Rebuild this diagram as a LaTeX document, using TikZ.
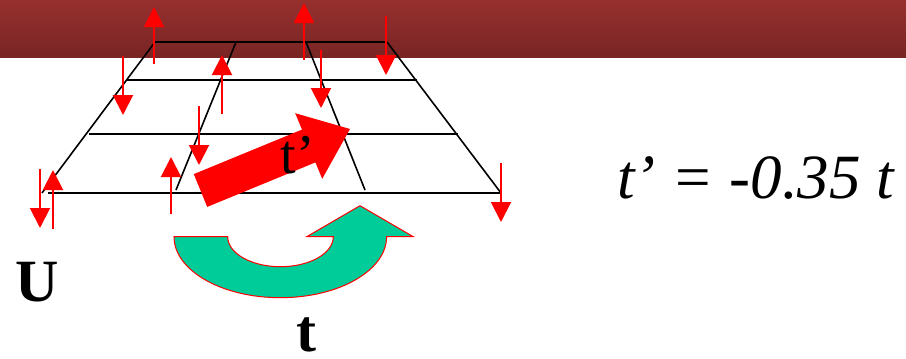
\documentclass[tikz,border=0pt]{standalone}
\usepackage{fontspec}
\setmainfont{Liberation Serif}
\usetikzlibrary{arrows.meta}
\definecolor{bandtop}{RGB}{150,48,46}
\definecolor{bandbot}{RGB}{120,37,36}
\definecolor{turn}{RGB}{0,204,153}
\tikzset{
  gridline/.style={black,line width=1.6pt},
  smallarr/.style={red,line width=2pt,-{Triangle[length=20pt,width=20pt]}},
  bigarr/.style={fill=red,draw=none},
  turnarr/.style={fill=turn,draw=red,line width=1pt},
}
\begin{document}
\begin{tikzpicture}[x=1pt,y=-1pt]
\useasboundingbox (0,0) rectangle (906,359);
% band
\shade[top color=bandtop,bottom color=bandbot] (0,0) rectangle (906,57);
% grid
\coordinate (tl) at (155,42); \coordinate (tr) at (387,42);
\coordinate (bl) at (42,193); \coordinate (br) at (501,193);
\draw[gridline] (tl) -- (tr);
\draw[gridline] (tl) -- (bl);
\draw[gridline] (tr) -- (br);
\draw[gridline] (48,193) -- (br);
\draw[gridline] (127,80) -- (417,80);
\draw[gridline] (89,134) -- (458,134);
\draw[gridline] (236,42) -- (176,190);
\draw[gridline] (306,42) -- (365,190);
% small arrows
\draw[smallarr] (154,64) -- (154,7);
\draw[smallarr] (304,60) -- (304,3);
\draw[smallarr] (386,16) -- (386,75);
\draw[smallarr] (123,56) -- (123,115);
\draw[smallarr] (222,114) -- (222,55);
\draw[smallarr] (321,50) -- (321,108);
\draw[smallarr] (199,106) -- (199,165);
\draw[smallarr] (171,214) -- (171,157);
\draw[smallarr] (53,229) -- (53,170);
\draw[smallarr] (40,169) -- (40,228);
\draw[smallarr] (501,163) -- (501,222);
% big red arrow t'
\fill[bigarr] (193.8,174.1) -- (302.0,129.6) -- (295.2,113.2) -- (350,129)
  -- (322.2,178.8) -- (315.4,162.4) -- (207.2,206.9) -- cycle;
\node[font=\fontsize{56}{60}\selectfont,inner sep=0pt] (tp) at (298,155) {t’};
% green turn arrow
\filldraw[turnarr] (174,236.7) arc[start angle=180,end angle=0,x radius=106.3,y radius=61]
  -- (413.3,236.7) -- (360,205.7) -- (306.7,236.7) -- (333.3,236.7)
  arc[start angle=0,end angle=180,x radius=52.8,y radius=30] -- cycle;
% labels
\node[font=\fontsize{60}{64}\selectfont\bfseries,inner sep=0pt] (U) at (37,282) {U};
\node[font=\fontsize{60}{64}\selectfont\bfseries,inner sep=0pt] (t) at (306,335) {t};
\node[font=\fontsize{63}{66}\selectfont\itshape,inner sep=0pt,anchor=west] (eq) at (617,178) {t’ = -0.35 t};
\end{tikzpicture}
\end{document}
